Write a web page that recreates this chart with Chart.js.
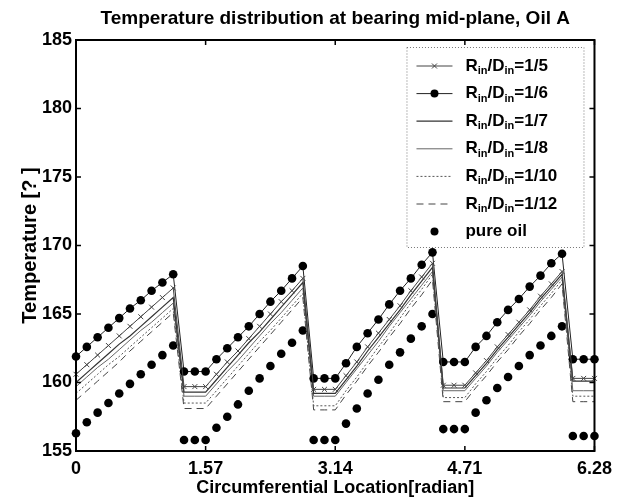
<!DOCTYPE html>
<html>
<head>
<meta charset="utf-8">
<script src="https://cdn.jsdelivr.net/npm/chart.js@4.4.1/dist/chart.umd.min.js"></script>
<style>
html, body { margin: 0; padding: 0; background: #fff; }
</style>
</head>
<body>
<canvas id="chart" width="619" height="501"></canvas>
<script>
// circumferential positions (radian), one every pi/24
const xValues = [0, 0.131, 0.262, 0.393, 0.524, 0.654, 0.785, 0.916, 1.047, 1.178,
    1.309, 1.440, 1.571, 1.702, 1.833, 1.963, 2.094, 2.225, 2.356, 2.487, 2.618, 2.749,
    2.880, 3.011, 3.142, 3.272, 3.403, 3.534, 3.665, 3.796, 3.927, 4.058, 4.189, 4.320,
    4.451, 4.581, 4.712, 4.843, 4.974, 5.105, 5.236, 5.367, 5.498, 5.629, 5.760, 5.890,
    6.021, 6.152, 6.283];

const xTickValues = [0, 1.5708, 3.1416, 4.7124, 6.2832];
const xTickLabels = ['0', '1.57', '3.14', '4.71', '6.28'];
const yTickValues = [155, 160, 165, 170, 175, 180, 185];

const titleText = 'Temperature distribution at bearing mid-plane, Oil A';
const seriesNames = ['1/5', '1/6', '1/7', '1/8', '1/10', '1/12', 'pure oil'];

const ratio5 = [160.6, 161.3, 162.0, 162.7, 163.4, 164.1, 164.8, 165.5, 166.2, 166.9,
    159.7, 159.7, 159.7,
    160.6, 161.5, 162.3, 163.2, 164.1, 165.0, 165.9, 166.7, 167.6,
    159.5, 159.5, 159.5,
    160.5, 161.5, 162.6, 163.6, 164.6, 165.6, 166.7, 167.7, 168.7,
    159.8, 159.8, 159.8,
    160.7, 161.6, 162.6, 163.5, 164.4, 165.3, 166.3, 167.2, 168.1,
    160.3, 160.3, 160.3];

const ratio6 = [161.9, 162.6, 163.3, 164.0, 164.7, 165.4, 166.0, 166.7, 167.3, 167.9,
    160.8, 160.8, 160.8,
    161.7, 162.5, 163.3, 164.1, 165.0, 165.9, 166.7, 167.6, 168.5,
    160.3, 160.3, 160.3,
    161.4, 162.6, 163.6, 164.6, 165.7, 166.7, 167.6, 168.6, 169.5,
    161.5, 161.5, 161.5,
    162.6, 163.4, 164.4, 165.3, 166.1, 167.0, 167.8, 168.7, 169.4,
    161.7, 161.7, 161.7];

const ratio7 = [160.0, 160.7, 161.4, 162.1, 162.8, 163.4, 164.1, 164.8, 165.5, 166.2,
    159.3, 159.3, 159.3,
    160.2, 161.1, 162.0, 162.9, 163.7, 164.6, 165.5, 166.4, 167.3,
    159.2, 159.2, 159.2,
    160.2, 161.2, 162.3, 163.3, 164.3, 165.3, 166.4, 167.4, 168.4,
    159.6, 159.6, 159.6,
    160.5, 161.4, 162.4, 163.3, 164.2, 165.1, 166.1, 167.0, 167.9,
    160.1, 160.1, 160.1];

const ratio8 = [159.7, 160.4, 161.1, 161.7, 162.4, 163.1, 163.8, 164.4, 165.1, 165.8,
    159.0, 159.0, 159.0,
    159.9, 160.8, 161.6, 162.5, 163.4, 164.3, 165.1, 166.0, 166.9,
    159.0, 159.0, 159.0,
    160.0, 161.0, 162.0, 163.0, 164.1, 165.1, 166.1, 167.1, 168.1,
    159.4, 159.4, 159.4,
    160.3, 161.2, 162.2, 163.1, 164.0, 164.9, 165.9, 166.8, 167.7,
    159.4, 159.4, 159.4];

const ratio10 = [159.2, 159.9, 160.6, 161.3, 161.9, 162.6, 163.3, 164.0, 164.7, 165.4,
    158.5, 158.5, 158.5,
    159.4, 160.3, 161.2, 162.1, 163.0, 163.8, 164.7, 165.6, 166.5,
    158.3, 158.3, 158.3,
    159.4, 160.4, 161.5, 162.6, 163.6, 164.7, 165.8, 166.8, 167.9,
    158.9, 158.9, 158.9,
    159.9, 160.8, 161.8, 162.7, 163.7, 164.6, 165.6, 166.5, 167.5,
    159.0, 159.0, 159.0];

const ratio12 = [158.7, 159.4, 160.1, 160.8, 161.5, 162.3, 163.0, 163.7, 164.4, 165.1,
    158.1, 158.1, 158.1,
    159.0, 159.9, 160.8, 161.7, 162.6, 163.5, 164.4, 165.3, 166.2,
    158.0, 158.0, 158.0,
    159.1, 160.1, 161.2, 162.2, 163.3, 164.3, 165.4, 166.4, 167.5,
    158.6, 158.6, 158.6,
    159.6, 160.5, 161.5, 162.4, 163.4, 164.3, 165.3, 166.2, 167.2,
    158.6, 158.6, 158.6];

const pureOil = [156.3, 157.1, 157.8, 158.5, 159.2, 159.9, 160.6, 161.3, 162.0, 162.7,
    155.8, 155.8, 155.8,
    156.7, 157.5, 158.4, 159.4, 160.3, 161.2, 162.1, 162.9, 163.8,
    155.8, 155.8, 155.8,
    157.0, 158.1, 159.2, 160.2, 161.3, 162.2, 163.2, 164.1, 165.0,
    156.6, 156.6, 156.6,
    157.8, 158.7, 159.6, 160.4, 161.2, 162.0, 162.7, 163.4, 164.1,
    156.1, 156.1, 156.1];

const seriesValues = [ratio5, ratio6, ratio7, ratio8, ratio10, ratio12, pureOil];

const FONT = '"Liberation Sans", Arial, Helvetica, sans-serif';

// line look for each series
const styles = [
    { color: '#444', width: 1, dash: [], marker: 'cross' },
    { color: '#222', width: 1, dash: [], marker: 'dot' },
    { color: '#333', width: 1.2, dash: [], marker: null },
    { color: '#666', width: 1, dash: [], marker: null },
    { color: '#555', width: 1, dash: [2, 2], marker: null },
    { color: '#444', width: 1, dash: [7, 5], marker: null },
    { color: '#000', width: 0, dash: [], marker: 'dot', noLine: true }
];

const datasets = seriesValues.map((vals, i) => {
    const st = styles[i];
    return {
        label: seriesNames[i],
        data: xValues.map((x, k) => ({ x: x, y: vals[k] })),
        showLine: !st.noLine,
        borderColor: st.color,
        borderWidth: st.width,
        borderDash: st.dash,
        tension: 0,
        clip: false,
        pointStyle: st.marker === 'cross' ? 'crossRot' : 'circle',
        pointRadius: st.marker === 'cross' ? 3.5 : (st.marker === 'dot' ? 4.3 : 0),
        pointBorderWidth: st.marker === 'cross' ? 1 : 0,
        pointBorderColor: st.color,
        pointBackgroundColor: '#000',
        pointHoverRadius: 0
    };
});

// title centred over the plot box
const titlePlugin = {
    id: 'plotTitle',
    afterDraw(chart) {
        const { ctx, chartArea: a } = chart;
        ctx.save();
        ctx.font = 'bold 19px ' + FONT;
        ctx.fillStyle = '#000';
        ctx.textAlign = 'center';
        ctx.textBaseline = 'middle';
        ctx.fillText(titleText, (a.left + a.right) / 2, 19);
        ctx.restore();
    }
};

// axes box with inward ticks
const boxPlugin = {
    id: 'box',
    afterDatasetsDraw(chart) {
        const { ctx, chartArea: a, scales } = chart;
        ctx.save();
        ctx.strokeStyle = '#000';
        ctx.lineWidth = 2;
        ctx.setLineDash([]);
        ctx.strokeRect(a.left, a.top, a.right - a.left, a.bottom - a.top);
        ctx.lineWidth = 1.5;
        ctx.beginPath();
        yTickValues.forEach(v => {
            const y = scales.y.getPixelForValue(v);
            ctx.moveTo(a.left, y); ctx.lineTo(a.left + 5, y);
            ctx.moveTo(a.right, y); ctx.lineTo(a.right - 5, y);
        });
        xTickValues.forEach(v => {
            const x = scales.x.getPixelForValue(v);
            ctx.moveTo(x, a.bottom); ctx.lineTo(x, a.bottom - 5);
            ctx.moveTo(x, a.top); ctx.lineTo(x, a.top + 5);
        });
        ctx.stroke();
        ctx.restore();
    }
};

function drawRatioText(ctx, x, y, ratio) {
    const big = 'bold 17px ' + FONT;
    const small = 'bold 11px ' + FONT;
    const parts = [['R', big, 0], ['in', small, 5], ['/D', big, 0], ['in', small, 5], ['=' + ratio, big, 0]];
    parts.forEach(p => {
        ctx.font = p[1];
        ctx.fillText(p[0], x, y + p[2]);
        x += ctx.measureText(p[0]).width;
    });
}

// legend box in the upper right corner
const legendPlugin = {
    id: 'matlabLegend',
    afterDraw(chart) {
        const { ctx, chartArea: a } = chart;
        const left = a.right - 188, top = a.top + 7, w = 177, h = 200;
        ctx.save();
        ctx.fillStyle = '#fff';
        ctx.fillRect(left, top, w, h);
        ctx.strokeStyle = '#777';
        ctx.lineWidth = 1;
        ctx.setLineDash([1, 2]);
        ctx.strokeRect(left + 0.5, top + 0.5, w, h);
        seriesNames.forEach((name, i) => {
            const st = styles[i];
            const y = top + 19 + i * 27.6;
            if (!st.noLine) {
                ctx.strokeStyle = st.color;
                ctx.lineWidth = st.width;
                ctx.setLineDash(st.dash);
                ctx.beginPath();
                ctx.moveTo(left + 10, y);
                ctx.lineTo(left + 46, y);
                ctx.stroke();
            }
            ctx.setLineDash([]);
            if (st.marker === 'cross') {
                ctx.strokeStyle = st.color;
                ctx.lineWidth = 1;
                ctx.beginPath();
                ctx.moveTo(left + 25.5, y - 2.5); ctx.lineTo(left + 30.5, y + 2.5);
                ctx.moveTo(left + 25.5, y + 2.5); ctx.lineTo(left + 30.5, y - 2.5);
                ctx.stroke();
            } else if (st.marker === 'dot') {
                ctx.fillStyle = '#000';
                ctx.beginPath();
                ctx.arc(left + 28, y, 4, 0, Math.PI * 2);
                ctx.fill();
            }
            ctx.fillStyle = '#000';
            ctx.textBaseline = 'middle';
            ctx.textAlign = 'left';
            if (st.noLine) {
                ctx.font = 'bold 17px ' + FONT;
                ctx.fillText(name, left + 59, y);
            } else {
                drawRatioText(ctx, left + 59, y, name);
            }
        });
        ctx.restore();
    }
};

Chart.defaults.font.family = FONT;
Chart.defaults.color = '#000';

new Chart(document.getElementById('chart'), {
    type: 'scatter',
    data: { datasets: datasets },
    options: {
        responsive: false,
        animation: false,
        events: [],
        layout: { padding: { top: 40, right: 19, bottom: 0, left: 0 } },
        plugins: {
            legend: { display: false },
            tooltip: { enabled: false },
            title: { display: false }
        },
        scales: {
            x: {
                type: 'linear',
                min: 0,
                max: 6.2832,
                afterBuildTicks: s => { s.ticks = xTickValues.map(v => ({ value: v })); },
                afterFit: s => { s.height = 50; },
                ticks: {
                    callback: (v, i) => xTickLabels[i],
                    font: { size: 18, weight: 'bold' },
                    color: '#000',
                    padding: 7,
                    maxRotation: 0,
                    autoSkip: false
                },
                grid: { display: false, drawTicks: false },
                border: { display: false },
                title: {
                    display: true,
                    text: 'Circumferential Location[radian]',
                    font: { size: 18, weight: 'bold' },
                    color: '#000',
                    padding: { top: 0, bottom: 2 }
                }
            },
            y: {
                min: 155,
                max: 185,
                afterBuildTicks: s => { s.ticks = yTickValues.map(v => ({ value: v })); },
                afterFit: s => { s.width = 76; },
                ticks: {
                    font: { size: 18, weight: 'bold' },
                    color: '#000',
                    padding: 4
                },
                grid: { display: false, drawTicks: false },
                border: { display: false },
                title: {
                    display: true,
                    text: 'Temperature [? ]',
                    font: { size: 20, weight: 'bold' },
                    color: '#000',
                    padding: { top: 18, bottom: 0 }
                }
            }
        }
    },
    plugins: [boxPlugin, legendPlugin, titlePlugin]
});
</script>
</body>
</html>
